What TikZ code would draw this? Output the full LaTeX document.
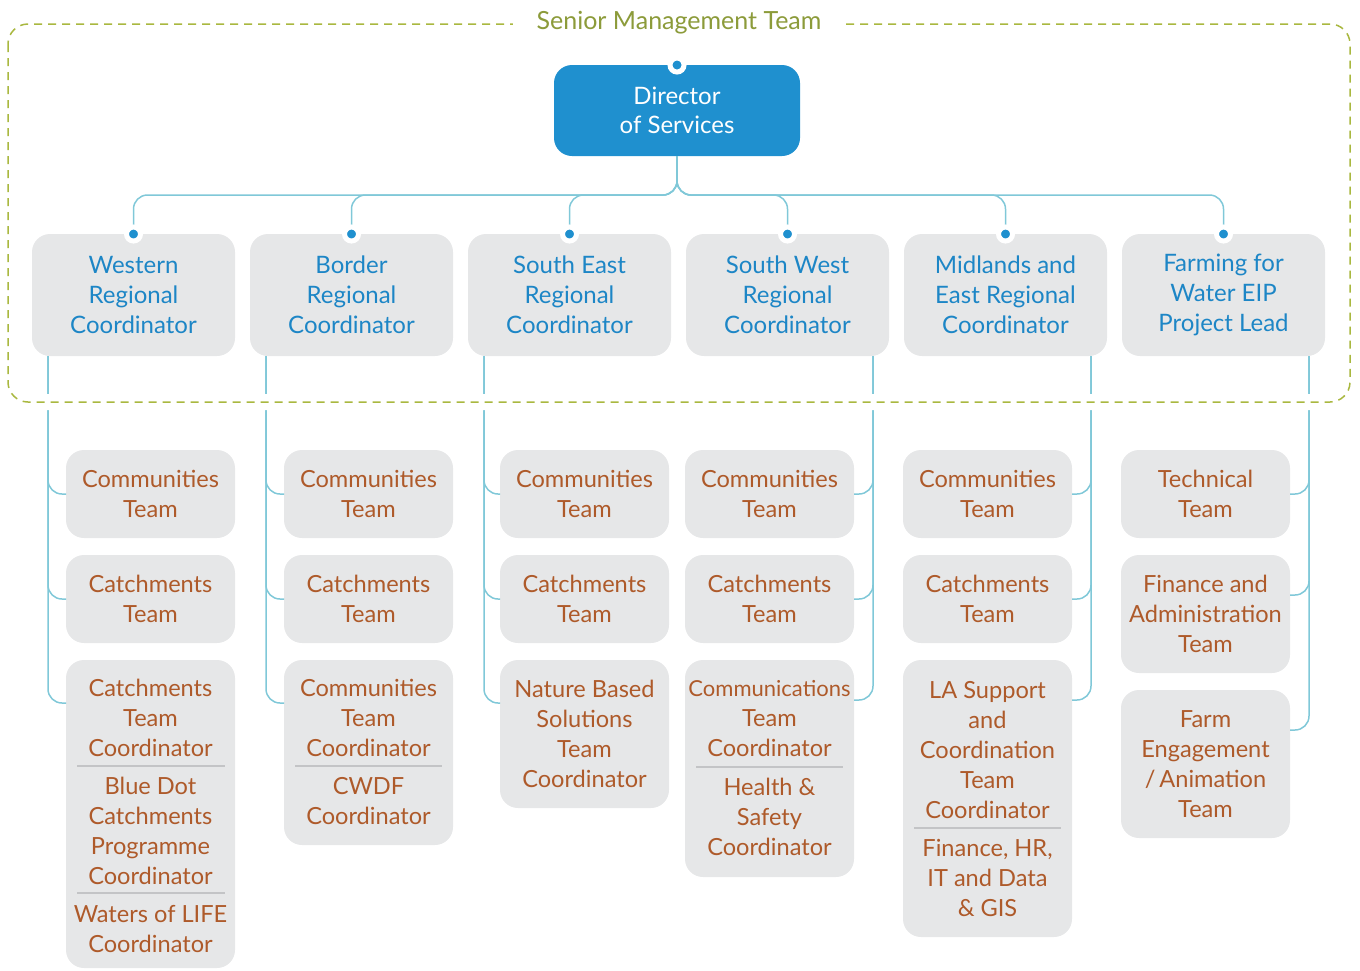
\documentclass[tikz,border=0pt]{standalone}
\usepackage{fontspec}
\setmainfont{Lato}
\usepackage{tikz}
\usetikzlibrary{positioning}

\definecolor{dirblue}{HTML}{1F90CF}
\definecolor{regblue}{HTML}{1D86C6}
\definecolor{boxgray}{HTML}{E6E7E8}
\definecolor{teambrown}{HTML}{AE5A2A}
\definecolor{linkteal}{HTML}{80C8D8}
\definecolor{smtgreen}{HTML}{A9B83F}
\definecolor{smttext}{HTML}{8C9B3A}
\definecolor{sepgray}{HTML}{C3C4C6}

\begin{document}
\begin{tikzpicture}[x=0.5pt, y=-0.5pt,
    box/.style = {fill=boxgray, rounded corners=9pt, inner sep=0pt, outer sep=0pt, align=center},
    director/.style = {box, fill=dirblue, text=white, minimum width=123pt, minimum height=45.5pt, font=\fontsize{12}{14.5}\selectfont},
    region/.style = {box, text=regblue, minimum width=101.5pt, minimum height=61pt, font=\fontsize{12}{15}\selectfont},
    team/.style = {box, text=teambrown, minimum width=84.5pt, minimum height=44pt, font=\fontsize{11.8}{15}\selectfont},
    lines/.style = {inner sep=0pt, align=center, text=teambrown, font=\fontsize{11.8}{15}\selectfont},
    link/.style = {draw=linkteal, line width=0.75pt, rounded corners=7pt},
    sep/.style = {draw=sepgray, line width=0.75pt},
    pin/.style = {circle, fill=dirblue, draw=white, line width=2.5pt, minimum size=7pt, inner sep=0pt}]

\useasboundingbox (0,0) rectangle (1360,970);

% director and regional coordinators
\node (dir) [director] at (677,110.5) {Director\\of Services};

\node (wr) [region] at (133.5,295) {Western\\Regional\\Coordinator};
\node (br) [region, right=7.5pt of wr] {Border\\Regional\\Coordinator};
\node (se) [region, right=7.5pt of br] {South East\\Regional\\Coordinator};
\node (sw) [region, right=7.5pt of se] {South West\\Regional\\Coordinator};
\node (me) [region, right=7.5pt of sw] {Midlands and\\East Regional\\Coordinator};
\node (ff) [region, right=7.5pt of me] {Farming for\\Water EIP\\Project Lead};

% Western
\node (wr1) [team] at (150.5,494) {Communities\\Team};
\node (wr2) [team, below=8.5pt of wr1] {Catchments\\Team};
\node (wr3) [team, below=8.5pt of wr2, minimum height=154pt] {};
\node (wr3a) [lines] at (150.5,718) {Catchments\\Team\\Coordinator};
\node (wr3b) [lines] at (150.5,831) {Blue Dot\\Catchments\\Programme\\Coordinator};
\node (wr3c) [lines] at (150.5,929) {Waters of LIFE\\Coordinator};
\draw [sep] (77,766) -- (225,766);
\draw [sep] (77,893) -- (225,893);

% Border
\node (br1) [team] at (368.5,494) {Communities\\Team};
\node (br2) [team, below=8.5pt of br1] {Catchments\\Team};
\node (br3) [team, below=8.5pt of br2, minimum height=92.5pt] {};
\node (br3a) [lines] at (368.5,718) {Communities\\Team\\Coordinator};
\node (br3b) [lines] at (368.5,801) {CWDF\\Coordinator};
\draw [sep] (295,766) -- (442,766);

% South East
\node (se1) [team] at (584.5,494) {Communities\\Team};
\node (se2) [team, below=8.5pt of se1] {Catchments\\Team};
\node (se3) [team, below=8.5pt of se2, minimum height=74pt] {Nature Based\\Solutions\\Team\\Coordinator};

% South West
\node (sw1) [team] at (769.5,494) {Communities\\Team};
\node (sw2) [team, below=8.5pt of sw1] {Catchments\\Team};
\node (sw3) [team, below=8.5pt of sw2, minimum height=108.5pt] {};
\node (sw3a) [lines] at (769.5,719) {{\fontsize{11}{15}\selectfont Communications}\\Team\\Coordinator};
\node (sw3b) [lines] at (769.5,817) {Health \&\\Safety\\Coordinator};
\draw [sep] (696,767) -- (843,767);

% Midlands and East
\node (me1) [team] at (987.5,494) {Communities\\Team};
\node (me2) [team, below=8.5pt of me1] {Catchments\\Team};
\node (me3) [team, below=8.5pt of me2, minimum height=138.5pt] {};
\node (me3a) [lines] at (987.5,750) {LA Support\\and\\Coordination\\Team\\Coordinator};
\node (me3b) [lines] at (987.5,878) {Finance, HR,\\IT and Data\\\& GIS};
\draw [sep] (914,828) -- (1061,828);

% Farming for Water
\node (ff1) [team] at (1205.5,494) {Technical\\Team};
\node (ff2) [team, below=8.5pt of ff1, minimum height=59pt] {Finance and\\Administration\\Team};
\node (ff3) [team, below=8.5pt of ff2, minimum height=74pt] {Farm\\Engagement\\/\,Animation\\Team};

% links
\coordinate (fork) at (677,195);
\foreach \r in {wr,br,se,sw,me,ff}
    \draw [link] (dir.south) -- (fork) -| (\r.north);

\foreach \r in {wr,br,se}{
    \coordinate (\r-drop) at ([xshift=8pt]\r.south west);
    \draw [link] (\r-drop) |- (\r1.west);
    \draw [link] (\r-drop) |- (\r2.west);
    \draw [link] (\r-drop) |- ([yshift=-21.5pt]\r3.north west);
}
\foreach \r in {sw,me}{
    \coordinate (\r-drop) at ([xshift=-8pt]\r.south east);
    \draw [link] (\r-drop) |- (\r1.east);
    \draw [link] (\r-drop) |- (\r2.east);
    \draw [link] (\r-drop) |- ([yshift=-20pt]\r3.north east);
}
\coordinate (ff-drop) at ([xshift=-8pt]ff.south east);
\draw [link] (ff-drop) |- (ff1.east);
\draw [link] (ff-drop) |- ([yshift=-20pt]ff2.north east);
\draw [link] (ff-drop) |- ([yshift=-20pt]ff3.north east);

% senior management frame
\draw [white, line width=8pt, rounded corners=10pt] (8,24) rectangle (1350,402);
\draw [smtgreen, line width=0.75pt, dash pattern=on 4pt off 3pt, rounded corners=10pt] (8,24) rectangle (1350,402);
\node (smt) [fill=white, inner xsep=12pt, inner ysep=2pt, text=smttext, font=\fontsize{12.5}{15}\selectfont] at (679,23) {Senior Management Team};

% pins
\node (dir-pin) [pin] at (dir.north) {};
\foreach \r in {wr,br,se,sw,me,ff}
    \node (\r-pin) [pin] at (\r.north) {};

\end{tikzpicture}
\end{document}
